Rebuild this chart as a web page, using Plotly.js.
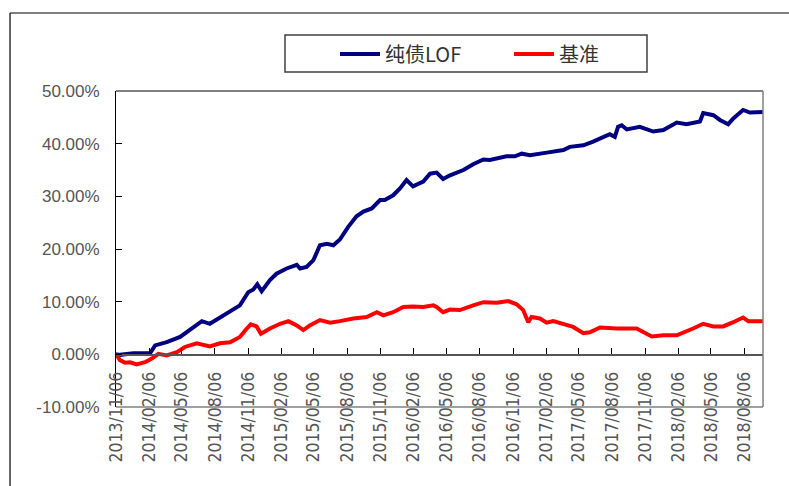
<!DOCTYPE html>
<html>
<head>
<meta charset="utf-8">
<script src="https://cdn.plot.ly/plotly-3.0.1.min.js"></script>
<style>
html,body{margin:0;padding:0;background:#fff;}
#chart{width:789px;height:486px;}
</style>
</head>
<body>
<div id="chart"></div>
<script>
var seriesNames = ['纯债LOF', '基准'];

var fundDates = ['2013-11-06','2013-11-17','2013-12-24','2014-02-08','2014-02-22','2014-03-26','2014-05-02','2014-05-20','2014-06-12','2014-07-01','2014-07-23','2014-08-29','2014-09-26','2014-10-14','2014-11-06','2014-11-20','2014-12-01','2014-12-13','2015-01-05','2015-01-23','2015-02-20','2015-03-20','2015-03-29','2015-04-16','2015-05-05','2015-05-23','2015-06-11','2015-06-29','2015-07-17','2015-08-09','2015-09-01','2015-09-20','2015-10-13','2015-11-05','2015-11-18','2015-12-11','2015-12-30','2016-01-17','2016-02-04','2016-03-03','2016-03-22','2016-04-09','2016-04-27','2016-05-16','2016-06-22','2016-07-19','2016-08-16','2016-09-03','2016-10-19','2016-11-11','2016-11-30','2016-12-23','2017-02-07','2017-03-25','2017-04-12','2017-05-19','2017-06-15','2017-07-13','2017-07-31','2017-08-14','2017-08-23','2017-09-02','2017-09-16','2017-10-22','2017-11-19','2017-11-28','2017-12-26','2018-02-01','2018-02-28','2018-04-06','2018-04-15','2018-05-13','2018-05-31','2018-06-23','2018-07-07','2018-08-03','2018-08-22','2018-09-27'];
var fundValues = [0.0,-0.1,0.2,0.2,1.7,2.3,3.3,4.2,5.5,6.3,5.8,7.4,8.4,9.3,11.8,12.3,13.3,12.0,14.1,15.3,16.3,17.0,16.3,16.6,17.9,20.7,21.0,20.7,21.8,24.2,26.2,27.1,27.7,29.3,29.3,30.2,31.5,33.1,31.9,32.8,34.3,34.5,33.3,34.0,35.0,36.1,37.0,36.9,37.6,37.6,38.1,37.8,38.3,38.8,39.4,39.7,40.4,41.3,41.8,41.3,43.2,43.5,42.7,43.2,42.6,42.3,42.6,44.0,43.7,44.2,45.8,45.4,44.5,43.7,44.8,46.4,45.9,46.0];

var benchDates = ['2013-11-06','2013-11-17','2013-12-01','2013-12-15','2014-01-02','2014-01-25','2014-02-13','2014-03-03','2014-03-26','2014-04-23','2014-05-15','2014-06-17','2014-07-23','2014-08-20','2014-09-17','2014-10-14','2014-11-02','2014-11-13','2014-11-29','2014-12-11','2015-01-05','2015-02-02','2015-02-25','2015-03-20','2015-04-07','2015-04-25','2015-05-23','2015-06-20','2015-07-17','2015-08-23','2015-09-29','2015-10-27','2015-11-14','2015-12-11','2016-01-08','2016-02-04','2016-03-03','2016-03-31','2016-04-09','2016-04-27','2016-05-16','2016-06-12','2016-07-19','2016-08-16','2016-09-22','2016-10-24','2016-11-16','2016-12-04','2016-12-18','2016-12-27','2017-01-19','2017-02-07','2017-02-25','2017-03-25','2017-04-21','2017-05-19','2017-06-06','2017-07-04','2017-08-19','2017-10-13','2017-11-24','2017-12-26','2018-02-01','2018-03-18','2018-04-15','2018-05-13','2018-06-09','2018-07-07','2018-08-03','2018-08-17','2018-09-27'];
var benchValues = [0.0,-1.1,-1.6,-1.5,-1.9,-1.5,-0.8,0.1,-0.2,0.4,1.4,2.1,1.5,2.1,2.3,3.3,4.9,5.7,5.3,3.9,4.9,5.8,6.3,5.5,4.6,5.5,6.5,6.0,6.3,6.8,7.1,8.0,7.4,8.0,9.0,9.1,9.0,9.3,9.0,8.0,8.5,8.4,9.3,9.9,9.8,10.1,9.5,8.4,6.1,7.1,6.8,6.0,6.3,5.7,5.2,4.0,4.2,5.1,4.9,4.9,3.4,3.6,3.6,4.9,5.8,5.3,5.3,6.1,7.0,6.3,6.3];

var xTickDates = ['2013-11-06','2014-02-06','2014-05-06','2014-08-06','2014-11-06','2015-02-06','2015-05-06','2015-08-06','2015-11-06','2016-02-06','2016-05-06','2016-08-06','2016-11-06','2017-02-06','2017-05-06','2017-08-06','2017-11-06','2018-02-06','2018-05-06','2018-08-06'];
var xTickLabels = ['2013/11/06','2014/02/06','2014/05/06','2014/08/06','2014/11/06','2015/02/06','2015/05/06','2015/08/06','2015/11/06','2016/02/06','2016/05/06','2016/08/06','2016/11/06','2017/02/06','2017/05/06','2017/08/06','2017/11/06','2018/02/06','2018/05/06','2018/08/06'];
var yTickVals = [-10, 0, 10, 20, 30, 40, 50];
var yTickLabels = ['-10.00%','0.00%','10.00%','20.00%','30.00%','40.00%','50.00%'];

var traces = [
  {x: fundDates, y: fundValues, name: seriesNames[0], type: 'scatter', mode: 'lines',
   line: {color: '#000080', width: 4}},
  {x: benchDates, y: benchValues, name: seriesNames[1], type: 'scatter', mode: 'lines',
   line: {color: '#ff0000', width: 4}}
];

var layout = {
  width: 789, height: 486,
  margin: {l: 116, r: 26, t: 91, b: 79, pad: 0},
  paper_bgcolor: '#ffffff', plot_bgcolor: '#ffffff',
  showlegend: true,
  legend: {
    orientation: 'h', x: 0.3385, xanchor: 'left', y: 1.1171, yanchor: 'middle',
    font: {family: 'Noto Sans CJK SC, sans-serif', size: 20, color: '#333333'},
    bgcolor: 'rgba(0,0,0,0)', borderwidth: 0, entrywidth: 119, itemwidth: 40
  },
  xaxis: {
    type: 'date', range: ['2013-11-06', '2018-09-27'],
    anchor: 'free', position: 1/6,
    tickmode: 'array', tickvals: xTickDates, ticktext: xTickLabels,
    tickangle: -90, ticks: 'inside', ticklen: 6, tickcolor: '#000000', tickwidth: 1,
    showline: true, linecolor: '#555555', linewidth: 1.5,
    showgrid: false, zeroline: false,
    tickfont: {family: 'Liberation Sans Narrow, DejaVu Sans Condensed, sans-serif', size: 17.5, color: '#555555'},
    ticklabelstandoff: 9
  },
  yaxis: {
    range: [-10, 50], tickmode: 'array', tickvals: yTickVals, ticktext: yTickLabels,
    ticks: 'inside', ticklen: 6, tickcolor: '#000000', tickwidth: 1,
    showline: true, linecolor: '#000000', linewidth: 1,
    showgrid: false, zeroline: false,
    tickfont: {family: 'Liberation Sans, Arial, sans-serif', size: 17, color: '#555555'},
    ticklabelstandoff: 12
  },
  shapes: [
    {type: 'line', xref: 'paper', yref: 'paper', x0: 0, x1: 1, y0: 1, y1: 1, line: {color: '#000000', width: 1}},
    {type: 'line', xref: 'paper', yref: 'paper', x0: 1, x1: 1, y0: 0, y1: 1, line: {color: '#808080', width: 1.5}},
    {type: 'line', xref: 'paper', yref: 'paper', x0: 0, x1: 1, y0: 0, y1: 0, line: {color: '#808080', width: 1.5}},
    {type: 'rect', xref: 'paper', yref: 'paper', x0: 0.2612, x1: 0.8207, y0: 1.0601, y1: 1.1772, line: {color: '#404040', width: 1.5}, fillcolor: 'rgba(0,0,0,0)'},
    {type: 'line', xref: 'paper', yref: 'paper', x0: -0.1638, x1: -0.1638, y0: -0.3, y1: 1.2468, line: {color: '#000000', width: 1.2}},
    {type: 'line', xref: 'paper', yref: 'paper', x0: -0.1638, x1: 1.1, y0: 1.2468, y1: 1.2468, line: {color: '#000000', width: 1.2}}
  ]
};

Plotly.newPlot('chart', traces, layout, {displayModeBar: false, staticPlot: true});
</script>
</body>
</html>
